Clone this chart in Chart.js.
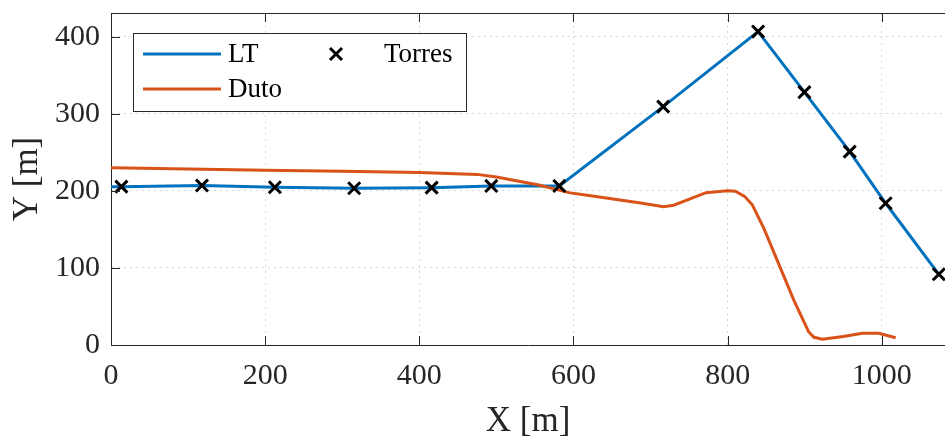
<!DOCTYPE html>
<html>
<head>
<meta charset="utf-8">
<script src="https://cdn.jsdelivr.net/npm/chart.js@4.4.1/dist/chart.umd.min.js"></script>
<style>
  html, body { margin: 0; padding: 0; background: #fff; overflow: hidden; }
  #wrap { position: relative; width: 945px; height: 436px; }
  #plot { display: block; }
</style>
</head>
<body>
<div id="wrap"><canvas id="plot"></canvas></div>
<script>
// LT route (line through the towers)
const ltX = [0, 13.5, 118, 212.6, 315.5, 416, 493.4, 581.6, 716.4, 839.5, 899.6, 958.4, 1005, 1074];
const ltY = [205.5, 205.6, 207, 204.8, 203.5, 204.3, 206.5, 206.5, 309.5, 406.9, 328.2, 251, 184, 91.8];

// tower positions
const towerX = [13.5, 118, 212.6, 315.5, 416, 493.4, 581.6, 716.4, 839.5, 899.6, 958.4, 1005, 1074];
const towerY = [205.6, 207, 204.8, 203.5, 204.3, 206.5, 206.5, 309.5, 406.9, 328.2, 251, 184, 91.8];

// pipeline (duto)
const dutoX = [0, 100, 200, 300, 400, 475, 500, 555, 594, 620, 685, 717, 730, 772, 800, 810, 822, 832, 847, 886, 905, 912, 923, 950, 975, 996, 1018];
const dutoY = [230, 228.5, 227, 225.5, 224, 221.5, 218, 207.8, 197.8, 194, 184.8, 179.6, 181.5, 197.8, 200.4, 199.6, 193, 182, 151.5, 58, 17.3, 10, 7.4, 11, 15.2, 15.2, 9.5];

const xTicks = [0, 200, 400, 600, 800, 1000];
const yTicks = [0, 100, 200, 300, 400];

const blue = '#0072BD';
const orange = '#D95319';
const axisColor = '#262626';
const gridColor = '#d9d9d9';
const serif = "'Liberation Serif', 'Times New Roman', serif";

const pts = (xs, ys) => xs.map((x, i) => ({ x: x, y: ys[i] }));

// MATLAB-like frame: top border and inward ticks
const framePlugin = {
  id: 'frame',
  afterDatasetsDraw(chart) {
    const { ctx, chartArea: a, scales: { x, y } } = chart;
    ctx.save();
    ctx.strokeStyle = axisColor;
    ctx.lineWidth = 1;
    ctx.beginPath();
    ctx.moveTo(a.left, a.top + 0.5);
    ctx.lineTo(a.right, a.top + 0.5);
    xTicks.forEach(v => {
      const px = Math.round(x.getPixelForValue(v)) + 0.5;
      ctx.moveTo(px, a.bottom); ctx.lineTo(px, a.bottom - 9);
      ctx.moveTo(px, a.top); ctx.lineTo(px, a.top + 9);
    });
    yTicks.forEach(v => {
      const py = Math.round(y.getPixelForValue(v)) + 0.5;
      ctx.moveTo(a.left, py); ctx.lineTo(a.left + 9, py);
    });
    ctx.stroke();
    ctx.restore();
  }
};

// legend box in two columns, drawn inside the axes
const legendPlugin = {
  id: 'boxLegend',
  afterDraw(chart) {
    const { ctx, chartArea: a } = chart;
    const bx = a.left + 22, by = a.top + 20, bw = 333, bh = 78;
    ctx.save();
    ctx.fillStyle = '#fff';
    ctx.fillRect(bx, by, bw, bh);
    ctx.strokeStyle = axisColor;
    ctx.lineWidth = 1;
    ctx.strokeRect(bx + 0.5, by + 0.5, bw, bh);

    const row1 = by + 21, row2 = by + 56;
    ctx.lineWidth = 3;
    ctx.strokeStyle = blue;
    ctx.beginPath(); ctx.moveTo(bx + 10, row1); ctx.lineTo(bx + 88, row1); ctx.stroke();
    ctx.strokeStyle = orange;
    ctx.beginPath(); ctx.moveTo(bx + 10, row2); ctx.lineTo(bx + 88, row2); ctx.stroke();

    // cross marker
    const mx = bx + 203, r = 6;
    ctx.strokeStyle = '#000';
    ctx.lineWidth = 3;
    ctx.beginPath();
    ctx.moveTo(mx - r, row1 - r); ctx.lineTo(mx + r, row1 + r);
    ctx.moveTo(mx + r, row1 - r); ctx.lineTo(mx - r, row1 + r);
    ctx.stroke();

    ctx.fillStyle = '#000';
    ctx.font = '27px ' + serif;
    ctx.textBaseline = 'middle';
    ctx.textAlign = 'left';
    ctx.fillText('LT', bx + 95, row1 + 1);
    ctx.fillText('Duto', bx + 95, row2 + 1);
    ctx.fillText('Torres', bx + 251, row1 + 1);
    ctx.restore();
  }
};

new Chart(document.getElementById('plot'), {
  type: 'scatter',
  data: {
    datasets: [
      {
        label: 'Torres',
        data: pts(towerX, towerY),
        showLine: false,
        pointStyle: 'crossRot',
        pointRadius: 8.5,
        pointBorderWidth: 3,
        borderColor: '#000',
        backgroundColor: '#000',
        order: 0
      },
      {
        label: 'Duto',
        data: pts(dutoX, dutoY),
        showLine: true,
        borderColor: orange,
        borderWidth: 3,
        pointRadius: 0,
        tension: 0,
        order: 1
      },
      {
        label: 'LT',
        data: pts(ltX, ltY),
        showLine: true,
        borderColor: blue,
        borderWidth: 3,
        pointRadius: 0,
        tension: 0,
        order: 2
      }
    ]
  },
  options: {
    responsive: true,
    maintainAspectRatio: false,
    animation: false,
    layout: { autoPadding: false, padding: { top: 13, right: 0, left: 0, bottom: 0 } },
    plugins: {
      legend: { display: false },
      tooltip: { enabled: false }
    },
    scales: {
      x: {
        type: 'linear',
        min: 0,
        max: 1082,
        afterBuildTicks: s => { s.ticks = xTicks.map(v => ({ value: v })); },
        afterFit: s => { s.height = 91; s.paddingLeft = 0; s.paddingRight = 0; },
        grid: { color: gridColor, drawTicks: false },
        border: { display: true, color: axisColor, width: 1, dash: [2, 4] },
        ticks: {
          color: axisColor, font: { family: serif, size: 30 }, padding: 13, maxRotation: 0,
          callback: v => String(v)
        },
        title: {
          display: true, text: 'X [m]', color: axisColor,
          font: { family: serif, size: 35, lineHeight: 1 }, padding: { top: 0, bottom: -3 }
        }
      },
      y: {
        type: 'linear',
        min: 0,
        max: 431,
        afterBuildTicks: s => { s.ticks = yTicks.map(v => ({ value: v })); },
        afterFit: s => { s.width = 111; s.paddingTop = 0; s.paddingBottom = 0; },
        grid: { color: gridColor, drawTicks: false },
        border: { display: true, color: axisColor, width: 1, dash: [2, 4] },
        ticks: {
          color: axisColor, font: { family: serif, size: 30 }, padding: 11,
          callback: v => String(v)
        },
        title: {
          display: true, text: 'Y [m]', color: axisColor,
          font: { family: serif, size: 35, lineHeight: 1 }, padding: { top: 10, bottom: 0 }
        }
      }
    }
  },
  plugins: [framePlugin, legendPlugin]
});
</script>
</body>
</html>
